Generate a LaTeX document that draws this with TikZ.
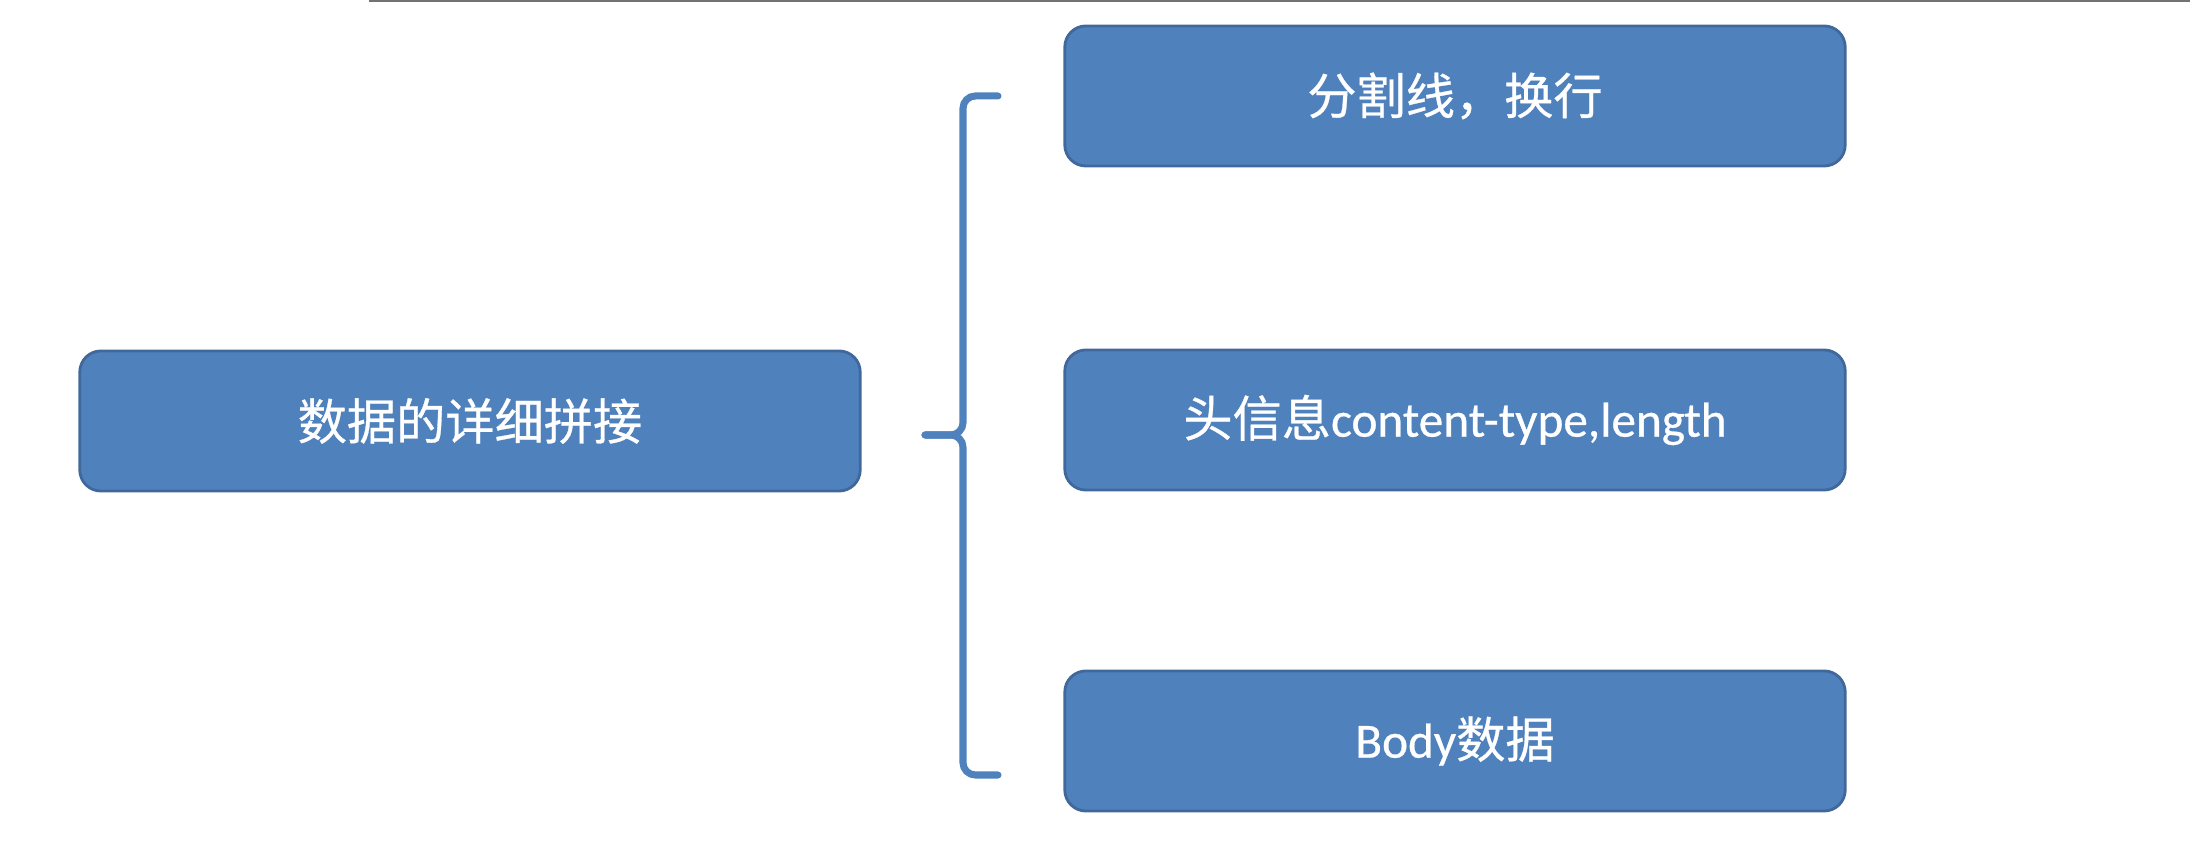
\documentclass[tikz,border=0pt]{standalone}
\usepackage{fontspec}
\setmainfont[FakeBold=0.6]{Carlito}
\newfontfamily\cjk[FakeBold=0.6]{Noto Sans CJK SC}
\usetikzlibrary{calc}
\definecolor{boxblue}{HTML}{4F81BD}
\definecolor{boxedge}{HTML}{41689A}
\colorlet{topgray}{black!55}

\begin{document}
\begin{tikzpicture}[
        x=0.01cm, y=-0.01cm,
        box/.style={
            draw=boxedge,
            fill=boxblue,
            rectangle,
            rounded corners=6pt,
            line width=0.8pt,
            minimum width=7.8cm,
            minimum height=1.4cm,
            text=white,
            font=\fontsize{14}{17}\selectfont,
            inner sep=0pt,
        },
        bracket/.style={
            draw=boxblue,
            line width=2pt,
            line cap=round,
            rounded corners=3.5pt,
        },
    ]
    \useasboundingbox (0,0) rectangle (2190,868);

    \draw[topgray, line width=0.6pt] (369,1) -- (2190,1);

    \node[box] (m) at (470,421) {\cjk 数据的详细拼接};

    \node[box] (r0) at (1455,96) {\cjk 分割线，换行};
    \node[box] (r1) at (1455,420) {{\cjk 头信息}content-type,length};
    \node[box] (r2) at (1455,741) {Body{\cjk 数据}};

    \coordinate (btop) at (998,96);
    \coordinate (btip) at (925,435);
    \coordinate (bbot) at (998,775);

    % brace, drawn as two halves meeting at the tip
    \draw[bracket] (btop) -| (963,435) -- (btip);
    \draw[bracket] (btip) -- (963,435) |- (bbot);
\end{tikzpicture}
\end{document}
